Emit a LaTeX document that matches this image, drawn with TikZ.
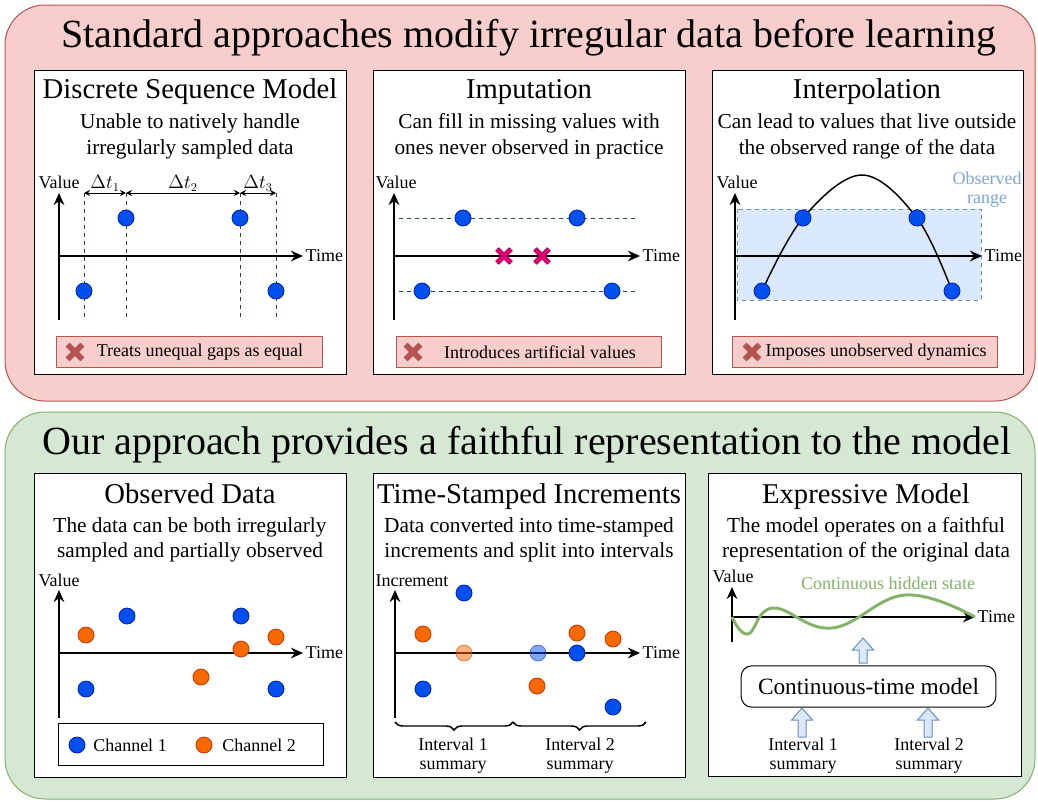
\documentclass[tikz,border=0pt]{standalone}
\usepackage{fontspec}
\setmainfont{Liberation Serif}
\usetikzlibrary{arrows.meta, shapes.misc, decorations.pathreplacing}

\definecolor{pinkfill}{HTML}{F8CECC}
\definecolor{pinkline}{HTML}{B85450}
\definecolor{greenfill}{HTML}{D5E8D4}
\definecolor{greenline}{HTML}{82B366}
\definecolor{dotblue}{HTML}{0050EF}
\definecolor{dotblueline}{HTML}{001DBC}
\definecolor{dotorange}{HTML}{FA6800}
\definecolor{dotorangeline}{HTML}{C73500}
\definecolor{crossmag}{HTML}{D80073}
\definecolor{crossmagline}{HTML}{A50040}
\definecolor{rangefill}{HTML}{DAE8FC}
\definecolor{rangeline}{HTML}{6C8EBF}
\definecolor{rangetext}{HTML}{7EA6E0}
\definecolor{guidegrey}{HTML}{23445D}

\begin{document}
\begin{tikzpicture}[x=0.75pt, y=-0.75pt,
    >={Stealth[length=9pt, width=8pt]},
    bigtitle/.style={font=\fontsize{30}{36}\selectfont, anchor=base},
    ptitle/.style={font=\fontsize{21.5}{26}\selectfont, anchor=base},
    psub/.style={font=\fontsize{16}{19}\selectfont, anchor=base},
    lbl/.style={font=\fontsize{13.5}{16}\selectfont, inner sep=1pt},
    panel/.style={draw=black, fill=white, line width=0.75pt},
    axis/.style={->, line width=2pt},
    bdot/.style={circle, fill=dotblue, draw=dotblueline, line width=0.6pt, minimum size=12pt, inner sep=0pt},
    odot/.style={circle, fill=dotorange, draw=dotorangeline, line width=0.6pt, minimum size=12pt, inner sep=0pt},
    guide/.style={guidegrey, dash pattern=on 3pt off 3pt, line width=0.75pt},
    badbox/.style={draw=pinkline, fill=pinkfill, line width=0.75pt, inner sep=0pt},
    badx/.style={cross out, draw=pinkline!85!black, double=pinkline, double distance=3.2pt, line width=0.4pt, minimum size=10.5pt, inner sep=0pt},
    fakex/.style={cross out, draw=crossmagline, double=crossmag, double distance=3pt, line width=0.4pt, minimum size=10pt, inner sep=0pt},
    dtarrow/.style={{Stealth[length=4.5pt, width=4.5pt]}-{Stealth[length=4.5pt, width=4.5pt]}, line width=0.75pt},
    blockup/.style={fill=rangefill, draw=rangeline, line width=0.75pt, line join=miter}]

    \useasboundingbox (0,0) rectangle (1038,803);

    % Background boxes
    \draw[pinkline, fill=pinkfill, line width=0.75pt, rounded corners=30pt] (5,5) rectangle (1035,401);
    \draw[greenline, fill=greenfill, line width=0.75pt, rounded corners=30pt] (5,412) rectangle (1035,799);
    \node[bigtitle] (toptitle) at (529,47) {Standard approaches modify irregular data before learning};
    \node[bigtitle] (bottitle) at (527,454) {Our approach provides a faithful representation to the model};

    % Discrete sequence model
    \draw[panel] (34,70) rectangle (346,374);
    \node[ptitle] (dsm) at (190,98) {Discrete Sequence Model};
    \node[psub] at (190,128) {Unable to natively handle};
    \node[psub] at (190,154) {irregularly sampled data};
    \coordinate (ya) at (59,320);
    \coordinate (yb) at (59,193);
    \coordinate (xa) at (59,256);
    \coordinate (xb) at (303,256);
    \foreach \n/\x in {1/84, 2/126, 3/240, 4/276} {
        \coordinate (gt\n) at (\x,193);
        \coordinate (gb\n) at (\x,320);
        \draw[guide] (gt\n) -- (gb\n);
    }
    \draw[axis] (ya) -- (yb);
    \draw[axis] (xa) -- (xb) node[lbl, right] {Time};
    \node[lbl, anchor=base] at (59,188) {Value};
    \draw[dtarrow] (gt1) -- node[lbl, above] {$\Delta t_1$} (gt2);
    \draw[dtarrow] (gt2) -- node[lbl, above] {$\Delta t_2$} (gt3);
    \draw[dtarrow] (gt3) -- node[lbl, above] {$\Delta t_3$} (gt4);
    \node[bdot] (d1) at (84,291) {};
    \node[bdot] (d2) at (126,218) {};
    \node[bdot] (d3) at (240,218) {};
    \node[bdot] (d4) at (276,291) {};
    \node[badbox, minimum width=199.5pt, minimum height=23.25pt] (bad1) at (189,351.5) {};
    \node[badx] (bx1) at (75,352) {};
    \node[lbl] at (200,352) {Treats unequal gaps as equal};

    % Imputation
    \draw[panel] (373,70) rectangle (685,374);
    \node[ptitle] (imp) at (529,98) {Imputation};
    \node[psub] at (529,128) {Can fill in missing values with};
    \node[psub] at (529,154) {ones never observed in practice};
    \coordinate (ia) at (394,320);
    \coordinate (ib) at (394,193);
    \coordinate (ic) at (394,256);
    \coordinate (id) at (640,256);
    \coordinate (hl1) at (399,218);
    \coordinate (hr1) at (635,218);
    \coordinate (hl2) at (399,291);
    \coordinate (hr2) at (635,291);
    \draw[guide] (hl1) -- (hr1);
    \draw[guide] (hl2) -- (hr2);
    \draw[axis] (ia) -- (ib);
    \draw[axis] (ic) -- (id) node[lbl, right] {Time};
    \node[lbl, anchor=base] at (396,188) {Value};
    \node[bdot] (m1) at (463,218) {};
    \node[bdot] (m2) at (577,218) {};
    \node[bdot] (m3) at (422,291) {};
    \node[bdot] (m4) at (612,291) {};
    \node[fakex] (f1) at (504,256) {};
    \node[fakex] (f2) at (542,256) {};
    \node[badbox, minimum width=198.75pt, minimum height=23.25pt] (bad2) at (528.5,351.5) {};
    \node[badx] (bx2) at (413,352) {};
    \node[lbl] at (540,352) {Introduces artificial values};

    % Interpolation
    \draw[panel] (712,70) rectangle (1023,374);
    \node[ptitle] (itp) at (867,98) {Interpolation};
    \node[psub] at (867,128) {Can lead to values that live outside};
    \node[psub] at (867,154) {the observed range of the data};
    \draw[rangeline, fill=rangefill, dash pattern=on 3pt off 3pt, line width=0.75pt] (737,209) rectangle (981,300);
    \node[lbl, rangetext, anchor=base] at (987,184) {Observed};
    \node[lbl, rangetext, anchor=base] at (987,203) {range};
    \coordinate (pa) at (735,320);
    \coordinate (pb) at (735,193);
    \coordinate (pc) at (735,256);
    \coordinate (pd) at (982,256);
    \draw[axis] (pa) -- (pb);
    \draw[axis] (pc) -- (pd) node[lbl, right] {Time};
    \node[lbl, anchor=base] at (737,188) {Value};
    \draw[line width=1.1pt] plot[smooth, tension=0.6] coordinates {(762,291) (803,218) (862,175) (917,218) (952,291)};
    \node[bdot] (p1) at (762,291) {};
    \node[bdot] (p2) at (803,218) {};
    \node[bdot] (p3) at (917,218) {};
    \node[bdot] (p4) at (952,291) {};
    \node[badbox, minimum width=198.75pt, minimum height=23.25pt] (bad3) at (864.5,351.5) {};
    \node[badx] (bx3) at (752,352) {};
    \node[lbl] at (876,352) {Imposes unobserved dynamics};

    % Observed data
    \draw[panel] (34,473) rectangle (346,777);
    \node[ptitle] (obs) at (190,503) {Observed Data};
    \node[psub] at (190,532) {The data can be both irregularly};
    \node[psub] at (190,557) {sampled and partially observed};
    \coordinate (oa) at (59,718);
    \coordinate (ob) at (59,590);
    \coordinate (oc) at (59,653);
    \coordinate (od) at (303,653);
    \draw[axis] (oa) -- (ob);
    \draw[axis] (oc) -- (od) node[lbl, right] {Time};
    \node[lbl, anchor=base] at (59,586) {Value};
    \node[bdot] (c1a) at (127,616) {};
    \node[bdot] (c1b) at (241,616) {};
    \node[bdot] (c1c) at (86,689) {};
    \node[bdot] (c1d) at (276,689) {};
    \node[odot] (c2a) at (86,635) {};
    \node[odot] (c2b) at (276,637) {};
    \node[odot] (c2c) at (241,649) {};
    \node[odot] (c2d) at (201,677) {};
    \draw[panel] (58,723) rectangle (323,765);
    \node[bdot] (leg1) at (77,745) {};
    \node[lbl] at (130,745) {Channel 1};
    \node[odot] (leg2) at (204,745) {};
    \node[lbl] at (259,745) {Channel 2};

    % Time-stamped increments
    \draw[panel] (373,473) rectangle (685,777);
    \node[ptitle] (tsi) at (529,503) {Time-Stamped Increments};
    \node[psub] at (529,532) {Data converted into time-stamped};
    \node[psub] at (529,557) {increments and split into intervals};
    \coordinate (ta) at (395,718);
    \coordinate (tb) at (395,590);
    \coordinate (tc) at (395,653);
    \coordinate (td) at (640,653);
    \draw[axis] (ta) -- (tb);
    \draw[axis] (tc) -- (td) node[lbl, right] {Time};
    \node[lbl, anchor=base] at (412,586) {Increment};
    \node[bdot] (i1a) at (464,593) {};
    \node[bdot] (i1b) at (423,689) {};
    \node[bdot] (i1c) at (577,653) {};
    \node[bdot] (i1d) at (613,707) {};
    \node[bdot, opacity=0.5] (i1e) at (538,653) {};
    \node[odot] (i2a) at (423,634) {};
    \node[odot] (i2b) at (577,633) {};
    \node[odot] (i2c) at (613,639) {};
    \node[odot] (i2d) at (537,686) {};
    \node[odot, opacity=0.5] (i2e) at (464,653) {};
    \coordinate (br0) at (395,722);
    \coordinate (br1) at (513,722);
    \coordinate (br2) at (646,722);
    \draw[line width=1.1pt, decorate, decoration={brace, mirror, amplitude=6pt}] (br0) -- (br1);
    \draw[line width=1.1pt, decorate, decoration={brace, mirror, amplitude=6pt}] (br1) -- (br2);
    \node[lbl, anchor=base] at (453,750) {Interval 1};
    \node[lbl, anchor=base] at (453,769) {summary};
    \node[lbl, anchor=base] at (580,750) {Interval 2};
    \node[lbl, anchor=base] at (580,769) {summary};

    % Expressive model
    \draw[panel] (708,473) rectangle (1021,776);
    \node[ptitle] (exm) at (866,503) {Expressive Model};
    \node[psub] at (866,532) {The model operates on a faithful};
    \node[psub] at (866,557) {representation of the original data};
    \coordinate (ea) at (732,642);
    \coordinate (eb) at (732,587);
    \coordinate (ec) at (732,617);
    \coordinate (ed) at (975,617);
    \draw[axis] (ea) -- (eb);
    \draw[axis] (ec) -- (ed) node[lbl, right] {Time};
    \node[lbl, anchor=base] at (733,582) {Value};
    \draw[greenline, line width=2.2pt] plot[smooth, tension=0.7] coordinates {(732,617) (748,634) (773,608) (832,628) (905,595) (975,617)};
    \node[lbl, greenline, anchor=base] at (888,589) {Continuous hidden state};
    \node[draw, rounded corners=8pt, line width=0.75pt, fill=white, minimum width=191pt, minimum height=31pt, font=\fontsize{17.5}{21}\selectfont] (ctm) at (868.5,686.5) {Continuous-time model};
    % Hollow up arrows
    \foreach \x/\yb/\yt in {863/663/638, 802/737/708, 928/737/708}
        \draw[blockup] ({\x-4},\yb) -- ({\x+4},\yb) -- ({\x+4},{\yt+12}) -- ({\x+10.5},{\yt+12})
            -- (\x,\yt) -- ({\x-10.5},{\yt+12}) -- ({\x-4},{\yt+12}) -- cycle;
    \node[lbl, anchor=base] at (803,750) {Interval 1};
    \node[lbl, anchor=base] at (803,769) {summary};
    \node[lbl, anchor=base] at (929,750) {Interval 2};
    \node[lbl, anchor=base] at (929,769) {summary};
\end{tikzpicture}
\end{document}
